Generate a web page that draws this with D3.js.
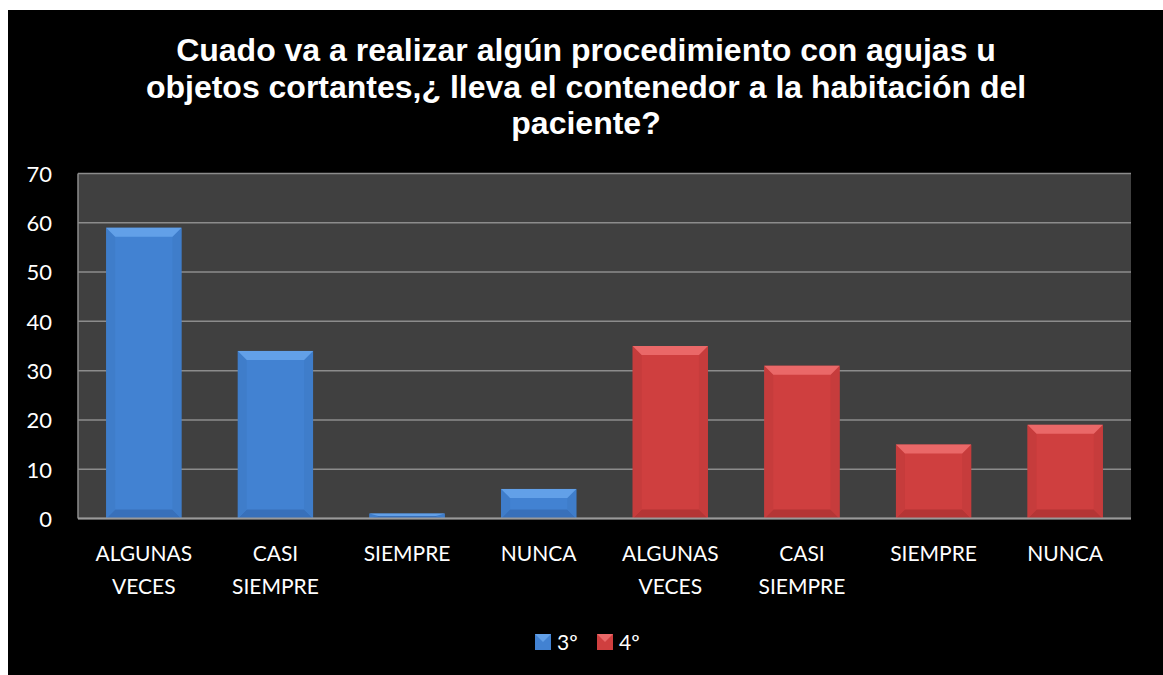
<!DOCTYPE html>
<html><head><meta charset="utf-8">
<script src="https://cdn.jsdelivr.net/npm/d3@7"></script>
<style>html,body{margin:0;padding:0;background:#fff;}svg{display:block;}</style>
</head><body><svg id="c" width="1163" height="675"></svg>
<script>
const categories = [
  ["ALGUNAS","VECES"],["CASI","SIEMPRE"],["SIEMPRE"],["NUNCA"],
  ["ALGUNAS","VECES"],["CASI","SIEMPRE"],["SIEMPRE"],["NUNCA"]
];
const seriesNames = ["3º","4º"];
const seriesIndex = [0,0,0,0,1,1,1,1];
const values = [59,34,1,6,35,31,15,19];
const yTicks = [0,10,20,30,40,50,60,70];
const titleLines = [
  "Cuado va a realizar algún procedimiento con agujas u",
  "objetos cortantes,¿ lleva el contenedor a la habitación del",
  "paciente?"
];

const palette = [
  {face:"#4282d2", top:"#62a0e8", side:"#3f7dca", bottom:"#3870ba"},
  {face:"#cf3f3f", top:"#ea6868", side:"#c63c3c", bottom:"#b43535"}
];
const bodyFont = "Lato, 'Open Sans', sans-serif";

const svg = d3.select("#c");
svg.append("rect").attr("x",8).attr("y",10).attr("width",1155).attr("height",665).attr("fill","#000");

const L=78, R=1131, T=173.5, B=518.5;
svg.append("rect").attr("x",L).attr("y",T).attr("width",R-L).attr("height",B-T).attr("fill","#404040");

const x = d3.scaleBand().domain(d3.range(values.length)).range([L,R]).paddingInner(0.4286).paddingOuter(0.2143);
const y = d3.scaleLinear().domain([0,70]).range([B,T]);

// grid
svg.append("g").selectAll("line").data(yTicks).join("line")
  .attr("x1",L).attr("x2",R).attr("y1",d=>y(d)).attr("y2",d=>y(d))
  .attr("stroke","#8c8c8c").attr("stroke-width",1.5);
svg.append("line").attr("x1",L).attr("x2",L).attr("y1",T).attr("y2",B).attr("stroke","#8c8c8c").attr("stroke-width",1.5);

// y axis
const yAxis = d3.axisLeft(y).tickValues(yTicks).tickSize(0).tickPadding(0);
const ga = svg.append("g").attr("transform",`translate(${L-26},0)`).call(yAxis);
ga.select(".domain").remove();
ga.selectAll("text").attr("fill","#fff").style("font-family",bodyFont).style("font-size","22px").attr("text-anchor","end").attr("dy","0.36em");

// bars with bevel
const bars = svg.append("g");
values.forEach((v,i)=>{
  const c = palette[seriesIndex[i]];
  const x0 = x(i), w = x.bandwidth(), x1 = x0+w;
  const y0 = y(v), y1 = y(0), h = y1-y0;
  const b = Math.min(9, h/2), s = Math.min(9, w/2);
  const g = bars.append("g");
  g.append("rect").attr("x",x0).attr("y",y0).attr("width",w).attr("height",h).attr("fill",c.face);
  g.append("polygon").attr("points",[[x0,y1],[x1,y1],[x1-s,y1-b],[x0+s,y1-b]].join(" ")).attr("fill",c.bottom);
  g.append("polygon").attr("points",[[x0,y0],[x0+s,y0+b],[x0+s,y1-b],[x0,y1]].join(" ")).attr("fill",c.side);
  g.append("polygon").attr("points",[[x1,y0],[x1-s,y0+b],[x1-s,y1-b],[x1,y1]].join(" ")).attr("fill",c.side);
  g.append("polygon").attr("points",[[x0,y0],[x1,y0],[x1-s,y0+b],[x0+s,y0+b]].join(" ")).attr("fill",c.top);
});

// bottom axis line
svg.append("line").attr("x1",L).attr("x2",R).attr("y1",B).attr("y2",B).attr("stroke","#9a9a9a").attr("stroke-width",2);

// x labels
const xl = svg.append("g");
categories.forEach((lines,i)=>{
  const cx = x(i)+x.bandwidth()/2;
  const t = xl.append("text").attr("x",cx).attr("y",561)
    .attr("fill","#fff").attr("text-anchor","middle")
    .style("font-family",bodyFont).style("font-size","21px");
  lines.forEach((ln,k)=>t.append("tspan").attr("x",cx).attr("dy",k?33:0).text(ln));
});

// title
const tt = svg.append("text").attr("text-anchor","middle").attr("fill","#fff")
  .style("font-family","'Liberation Sans', Arial, Helvetica, sans-serif").style("font-weight","bold").style("font-size","32px");
titleLines.forEach((ln,k)=>tt.append("tspan").attr("x",586).attr("y",61+k*36.5).text(ln));

// legend
const lg = svg.append("g");
const legX = [535, 597];
seriesNames.forEach((n,k)=>{
  const c = palette[k];
  const gx = legX[k], gy = 634;
  lg.append("rect").attr("x",gx).attr("y",gy).attr("width",16).attr("height",16).attr("fill",c.face);
  lg.append("polygon").attr("points",[[gx,gy],[gx+16,gy],[gx+8,gy+8]].join(" ")).attr("fill",c.top);
  lg.append("text").attr("x",gx+22).attr("y",gy+15.5).attr("fill","#fff")
    .style("font-family",bodyFont).style("font-size","21px").text(n);
});
</script></body></html>
